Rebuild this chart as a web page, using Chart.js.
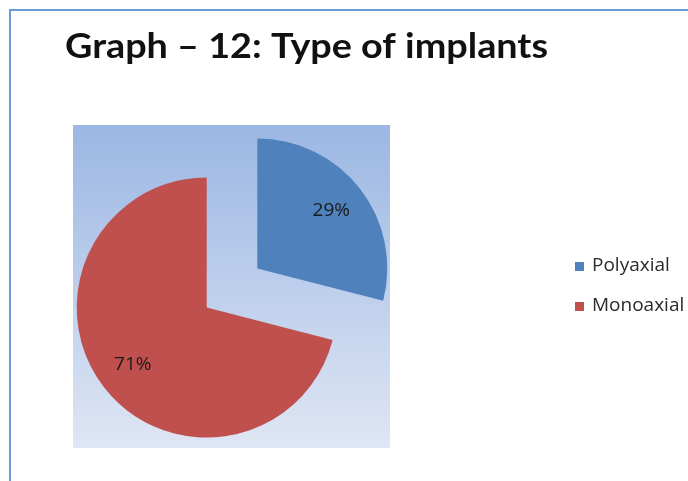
<!DOCTYPE html>
<html>
<head>
  <title>Type of implants</title>
  <script src="https://cdn.jsdelivr.net/npm/chart.js"></script>
  <style>
    html, body { margin: 0; padding: 0; background: #fff; }
    canvas { display: block; }
  </style>
</head>
<body>
<canvas id="pieChart" width="688" height="481"></canvas>

<script>
  const titleText = "Graph \u2013 12: Type of implants";
  const labels = ["Polyaxial", "Monoaxial"];
  const values = [29, 71];
  const colors = ["#4f81bd", "#c0504d"];

  // built-in offset also grows the radius of big slices, so push both
  // slices out along their middle angle ourselves after each update
  const explode = 32;
  const explodePlugin = {
    id: "explode",
    afterDatasetUpdate(chart, args) {
      chart.getDatasetMeta(args.index).data.forEach(arc => {
        const mid = (arc.startAngle + arc.endAngle) / 2;
        arc.x += Math.cos(mid) * explode;
        arc.y += Math.sin(mid) * explode;
      });
    }
  };

  // frame, plot background, title and legend
  const decor = {
    id: "decor",
    beforeDraw(chart) {
      const c = chart.ctx;
      c.save();
      c.fillStyle = "#ffffff";
      c.fillRect(0, 0, chart.width, chart.height);

      c.strokeStyle = "#6b9bd9";
      c.lineWidth = 2;
      c.beginPath();
      c.moveTo(10, 481);
      c.lineTo(10, 10);
      c.lineTo(688, 10);
      c.stroke();

      const g = c.createLinearGradient(0, 125, 0, 448);
      g.addColorStop(0, "#9bb7e3");
      g.addColorStop(1, "#dfe6f4");
      c.fillStyle = g;
      c.fillRect(73, 125, 317, 323);

      c.fillStyle = "#111";
      c.font = "bold 35px Lato";
      c.textBaseline = "alphabetic";
      const w = c.measureText(titleText).width;
      c.translate(65, 58);
      c.scale(483 / w, 1);
      c.fillText(titleText, 0, 0);
      c.restore();

      c.save();
      c.font = "19px 'Open Sans'";
      c.textBaseline = "middle";
      labels.forEach((lab, i) => {
        const y = 266 + i * 40;
        c.fillStyle = colors[i];
        c.fillRect(575, y - 4, 9, 9);
        c.fillStyle = "#2a2a2a";
        c.fillText(lab, 592, y);
      });
      c.restore();
    },
    afterDatasetsDraw(chart) {
      const c = chart.ctx;
      const meta = chart.getDatasetMeta(0);
      c.save();
      c.font = "19px 'Open Sans'";
      c.fillStyle = "#1a1a1a";
      c.textAlign = "center";
      c.textBaseline = "middle";
      meta.data.forEach((arc, i) => {
        const mid = (arc.startAngle + arc.endAngle) / 2;
        const r = arc.outerRadius * 0.72;
        c.fillText(values[i] + "%", arc.x + Math.cos(mid) * r, arc.y + Math.sin(mid) * r);
      });
      c.restore();
    }
  };

  const ctx = document.getElementById("pieChart").getContext("2d");
  const pieChart = new Chart(ctx, {
    type: "pie",
    data: {
      labels: labels,
      datasets: [{
        data: values,
        backgroundColor: colors,
        borderWidth: 0,
        radius: 130
      }]
    },
    options: {
      responsive: false,
      animation: false,
      layout: {
        padding: { left: 82, right: 306, top: 138, bottom: 43 }
      },
      plugins: {
        legend: { display: false },
        tooltip: { enabled: false }
      }
    },
    plugins: [explodePlugin, decor]
  });
</script>
</body>
</html>
